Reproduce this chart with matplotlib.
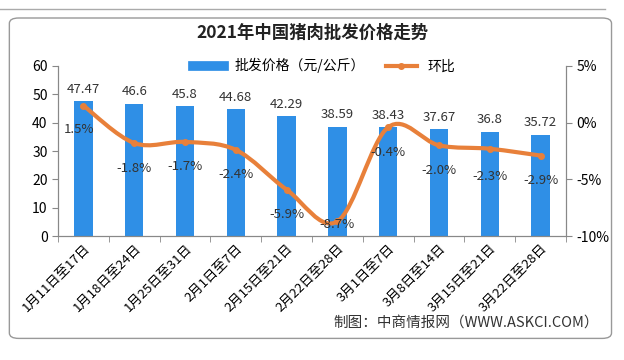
import numpy as np
import matplotlib.pyplot as plt
from matplotlib.path import Path
from matplotlib.patches import PathPatch, FancyBboxPatch
from matplotlib.lines import Line2D
from matplotlib.ticker import FuncFormatter

plt.rcParams['font.family'] = ['Noto Sans CJK SC', 'DejaVu Sans']

# data
weeks = ['1月11日至17日', '1月18日至24日', '1月25日至31日', '2月1日至7日', '2月15日至21日',
         '2月22日至28日', '3月1日至7日', '3月8日至14日', '3月15日至21日', '3月22日至28日']
price = [47.47, 46.6, 45.8, 44.68, 42.29, 38.59, 38.43, 37.67, 36.8, 35.72]
price_labels = ['47.47', '46.6', '45.8', '44.68', '42.29', '38.59', '38.43', '37.67', '36.8', '35.72']
mom = [1.5, -1.8, -1.7, -2.4, -5.9, -8.7, -0.4, -2.0, -2.3, -2.9]

blue = '#2F8FE6'
orange = '#E8803A'

fig = plt.figure(figsize=(6.24, 3.6), dpi=100)
ax = fig.add_axes([0.093, 0.344, 0.814, 0.473])
ax2 = ax.twinx()

x = np.arange(len(weeks))
ax.bar(x, price, width=0.36, color=blue, zorder=2)
for xi, v, s in zip(x, price, price_labels):
    ax.annotate(s, (xi, v), xytext=(0, 4), textcoords='offset points',
                ha='center', va='bottom', fontsize=9.5, color='#333333')

ax.set_ylim(0, 60)
ax.set_yticks(range(0, 61, 10))
ax.set_xlim(-0.5, len(weeks) - 0.5)
ax.set_xticks(x)
ax.set_xticklabels(weeks, rotation=45, ha='right', rotation_mode='anchor', fontsize=9.5)
ax.set_xticks(np.arange(-0.5, len(weeks)), minor=True)
ax.tick_params(axis='x', which='major', length=0, pad=4)
ax.tick_params(axis='x', which='minor', length=4, color='#888888')
ax.tick_params(axis='y', labelsize=10, length=4, color='#888888')

# smooth line through the data points (Catmull-Rom -> cubic Bezier)
pts = np.column_stack([x, mom]).astype(float)
verts = [tuple(pts[0])]
codes = [Path.MOVETO]
for i in range(len(pts) - 1):
    p0 = pts[i - 1] if i > 0 else pts[i]
    p1, p2 = pts[i], pts[i + 1]
    p3 = pts[i + 2] if i + 2 < len(pts) else pts[i + 1]
    c1 = p1 + (p2 - p0) / 6
    c2 = p2 - (p3 - p1) / 6
    verts += [tuple(c1), tuple(c2), tuple(p2)]
    codes += [Path.CURVE4] * 3
ax2.add_patch(PathPatch(Path(verts, codes), fill=False, edgecolor=orange, lw=3, zorder=3))
ax2.plot(x, mom, 'o', color=orange, ms=4, zorder=4)

offsets = [(-3, -17), (0, -18), (0, -18), (0, -18), (0, -18), (0, -2), (0, -18), (0, -18), (0, -20), (0, -18)]
for xi, v, off in zip(x, mom, offsets):
    ax2.annotate(f'{v:.1f}%', (xi, v), xytext=off, textcoords='offset points',
                 ha='center', va='center', fontsize=9.5, color='#333333', zorder=5)

ax2.set_ylim(-10, 5)
ax2.set_yticks([-10, -5, 0, 5])
ax2.yaxis.set_major_formatter(FuncFormatter(lambda v, p: f'{v:.0f}%'))
ax2.tick_params(axis='y', labelsize=10, length=4, color='#888888')

for a in (ax, ax2):
    a.spines['top'].set_visible(False)
    for s in ('left', 'right', 'bottom'):
        a.spines[s].set_color('#888888')

handles = [Line2D([], [], color=blue, lw=7),
           Line2D([], [], color=orange, lw=3, marker='o', ms=4)]
fig.legend(handles, ['批发价格（元/公斤）', '环比'], loc='center', bbox_to_anchor=(0.52, 0.817),
           ncol=2, frameon=False, fontsize=10, handlelength=2.2, columnspacing=1.5)

fig.text(0.5, 0.91, '2021年中国猪肉批发价格走势', ha='center', va='center',
         fontsize=12.5, fontweight='bold', color='#222222')
fig.text(0.96, 0.105, '制图：中商情报网（WWW.ASKCI.COM）', ha='right', va='center',
         fontsize=10.5, color='#333333')

fig.patches.append(FancyBboxPatch((0.015, 0.06), 0.965, 0.89, boxstyle='round,pad=0,rounding_size=0.015',
                                  transform=fig.transFigure, fill=False, edgecolor='#999999', lw=1))
fig.lines.append(Line2D([0.0, 0.97], [0.975, 0.975], transform=fig.transFigure, color='#aaaaaa', lw=1))

fig.savefig('out.png', dpi=100)
